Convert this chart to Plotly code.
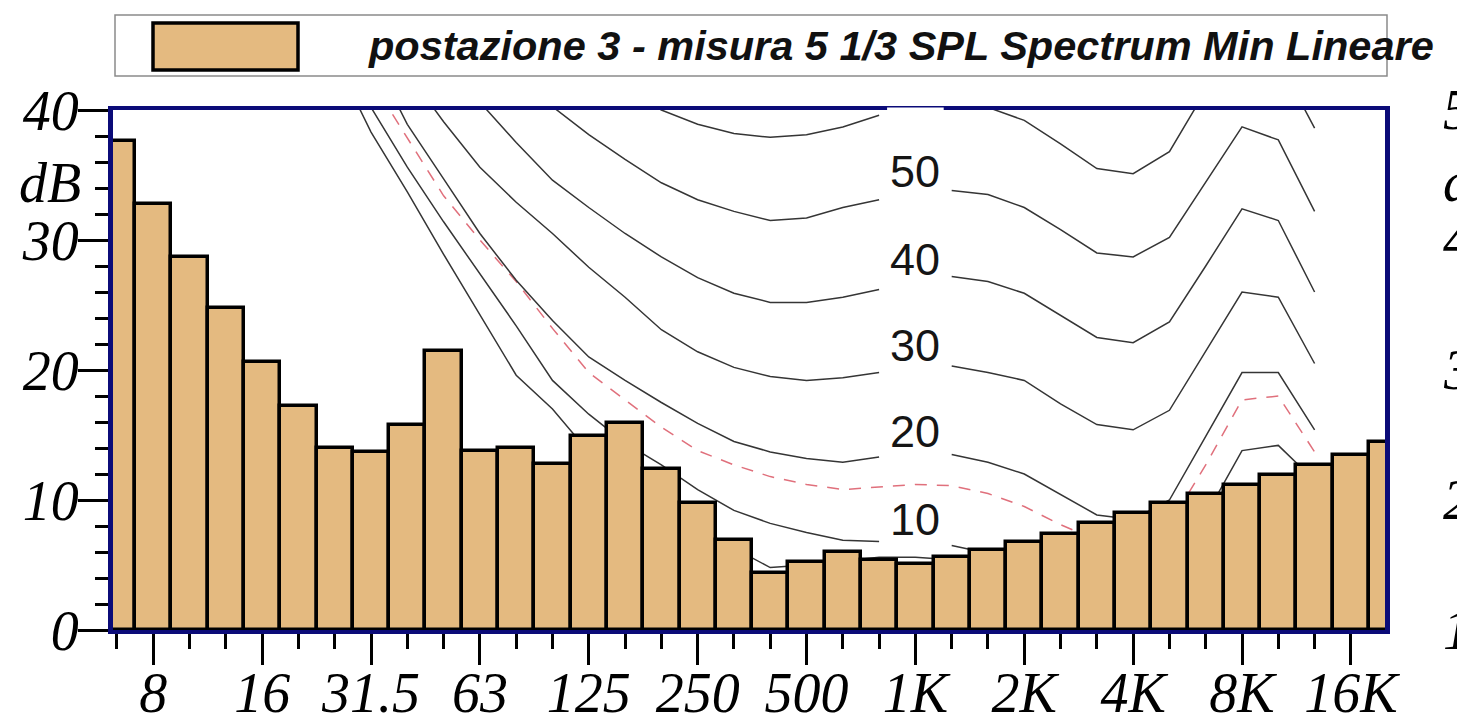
import plotly.graph_objects as go

# ---------------- data ----------------
bands = ["6.3", "8", "10", "12.5", "16", "20", "25", "31.5", "40", "50", "63", "80",
         "100", "125", "160", "200", "250", "315", "400", "500", "630", "800",
         "1K", "1.25K", "1.6K", "2K", "2.5K", "3.15K", "4K", "5K", "6.3K", "8K",
         "10K", "12.5K", "16K", "20K"]

levels_db = [37.6, 32.8, 28.7, 24.8, 20.6, 17.2, 14.0, 13.7, 15.8, 21.5, 13.8, 14.0,
             12.8, 14.9, 15.9, 12.4, 9.8, 6.9, 4.35, 5.25, 6.0, 5.4,
             5.1, 5.6, 6.15, 6.75, 7.4, 8.2, 9.0, 9.8, 10.5, 11.15,
             11.9, 12.7, 13.5, 14.5]

tick_labels = ["8", "16", "31.5", "63", "125", "250", "500", "1K", "2K", "4K", "8K", "16K"]

# equal-loudness curves, 6.3 Hz ... 12.5 kHz (values as drawn on the chart scale)
curve_bands = bands[:34]
curve_low = [70, 64, 58, 54, 50, 47, 44.0, 38.3, 33.7, 28.9, 24.2, 19.6, 17.0, 13.7,
             11.5, 9.6, 7.9, 6.3, 4.8, 5.0, 5.3, 5.6, 5.6, 5.4, 4.8, 3.8, 2.7, 1.5,
             1.4, 2.7, 5.4, 8.1, 8.5, 3.8]
curve_10 = [75, 68, 62, 57, 52, 48.5, 45.0, 40.2, 35.6, 31.4, 27.4, 23.4, 19.2, 16.6,
            14.4, 12.7, 10.8, 9.2, 8.2, 7.5, 6.9, 6.8, 6.7, 6.5, 5.9, 5.0, 3.8, 2.7,
            2.5, 4.0, 8.8, 13.8, 14.2, 11.5]
curve_ref = [78, 71, 65, 59, 54, 50, 46, 42.3, 37.9, 33.4, 30.0, 26.8, 23.2, 19.8,
             17.7, 15.6, 13.8, 12.7, 11.8, 11.2, 10.8, 11.0, 11.2, 11.1, 10.5, 9.5,
             8.1, 6.9, 6.5, 8.1, 12.7, 17.7, 18.0, 13.7]
curve_20 = [80, 73, 67, 61, 56, 51.5, 47.5, 44.4, 38.9, 34.7, 30.5, 26.9, 23.8, 21.0,
            19.2, 17.5, 15.9, 14.5, 13.7, 13.2, 12.9, 13.3, 13.5, 13.5, 12.9, 12.0,
            10.4, 8.85, 8.5, 10.0, 14.9, 19.8, 19.8, 15.4]
curve_30 = [85, 78, 72, 66, 60, 55, 50.5, 46.5, 42.9, 39.1, 35.6, 32.9, 30.5, 27.9,
            25.6, 23.1, 21.4, 20.2, 19.5, 19.2, 19.4, 19.8, 20.1, 20.3, 19.8, 19.2,
            17.4, 15.8, 15.4, 16.9, 21.5, 26.0, 25.6, 20.5]
curve_40 = [90, 83, 77, 71, 65, 60, 55.5, 51.5, 47.5, 44.0, 40.6, 37.5, 34.6, 32.5,
            30.5, 28.7, 27.1, 25.9, 25.2, 25.2, 25.6, 26.2, 26.7, 27.2, 26.8, 25.9,
            24.2, 22.5, 22.1, 23.7, 28.0, 32.4, 31.5, 26.0]
curve_50 = [95, 88, 82, 76, 70, 65, 60.5, 56.5, 52.5, 49, 46, 43, 40.26, 38.1, 36.2,
            34.4, 33.1, 32.2, 31.5, 31.7, 32.5, 33.1, 33.5, 33.8, 33.5, 32.5, 30.8,
            29.0, 28.7, 30.2, 34.5, 38.7, 37.7, 32.2]
curve_60 = [100, 93, 87, 81, 75, 70, 65.5, 61.5, 57.5, 54, 51, 48, 45.5, 43.5, 41.5,
            40.0, 38.9, 38.2, 37.9, 38.1, 38.7, 39.6, 40.4, 40.6, 40.2, 39.2, 37.4,
            35.5, 35.1, 36.8, 41.5, 44.6, 43.9, 38.6]

labelled_curves = [("10", curve_10), ("20", curve_20), ("30", curve_30),
                   ("40", curve_40), ("50", curve_50), ("60", curve_60)]
label_band = "1K"
series_name = "postazione 3 - misura 5 1/3 SPL Spectrum Min Lineare"

# ---------------- figure ----------------
idx = list(range(len(bands)))
cidx = list(range(len(curve_bands)))
k_lab = bands.index(label_band)

X_RANGE = [-0.11, 34.94]
Y_RANGE = [0, 40]
BAR_FILL = "#E4BA80"
NAVY = "#0b0b78"
SERIF = "Liberation Serif"
SANS = "Liberation Sans"

fig = go.Figure()

curve_line = dict(color="#353535", width=1.5)

fig.add_trace(go.Scatter(x=cidx, y=curve_low, mode="lines", line=curve_line,
                         hoverinfo="skip", showlegend=False))
fig.add_trace(go.Scatter(x=cidx, y=curve_ref, mode="lines",
                         line=dict(color="#e0707c", width=1.5, dash="12px,10px"),
                         hoverinfo="skip", showlegend=False))
for name, vals in labelled_curves:
    yv = [None if i == k_lab else v for i, v in enumerate(vals)]
    fig.add_trace(go.Scatter(x=cidx, y=yv, mode="lines", line=curve_line,
                             connectgaps=False, hoverinfo="skip", showlegend=False))

# bars on an overlaid subplot so that they hide the curves behind them
fig.add_trace(go.Bar(x=idx, y=levels_db, width=1, name=series_name,
                     xaxis="x2", yaxis="y2",
                     marker=dict(color=BAR_FILL, line=dict(color="black", width=3.5)),
                     showlegend=False))

annotations = []
for name, vals in labelled_curves:
    if vals[k_lab] <= Y_RANGE[1]:
        annotations.append(dict(x=k_lab, y=vals[k_lab], xref="x", yref="y", text=name,
                                showarrow=False, xanchor="center", yanchor="bottom",
                                yshift=-4,
                                font=dict(family=SANS, size=45, color="#151515")))

# the page body adds an 8 px margin: the figure is sized and placed to compensate
OFF = 8
W, H = 1465 - OFF, 720 - OFF
ML, MR, MT, MB = 113 - OFF, 80, 110 - OFF, 90
pw, ph = W - ML - MR, H - MT - MB


def px(xp):
    return (xp - OFF - ML) / pw


def py(yp):
    return (H - MB - (yp - OFF)) / ph


annotations.append(dict(x=px(50), y=py(183), xref="paper", yref="paper", text="dB",
                        showarrow=False, xanchor="center", yanchor="middle",
                        font=dict(family=SERIF, size=56, style="italic", color="black")))
annotations.append(dict(x=px(366), y=py(45), xref="paper", yref="paper", text=series_name,
                        showarrow=False, xanchor="left", yanchor="middle",
                        font=dict(family=SANS, size=41.5, weight="bold", style="italic",
                                  color="#111111")))
# neighbouring chart's axis labels cut by the page edge
for txt, ypix in [("50", 110), ("dB", 182), ("40", 240), ("30", 370), ("20", 500), ("10", 630)]:
    annotations.append(dict(x=px(1441), y=py(ypix), xref="paper", yref="paper", text=txt,
                            showarrow=False, xanchor="left", yanchor="middle",
                            font=dict(family=SERIF, size=56, style="italic", color="black")))

shapes = [
    dict(type="rect", xref="paper", yref="paper", x0=px(115), x1=px(1387), y0=py(76), y1=py(15),
         line=dict(color="#8a8a8a", width=1.5), fillcolor="white", layer="below"),
    dict(type="rect", xref="paper", yref="paper", x0=px(153), x1=px(298), y0=py(70), y1=py(23),
         line=dict(color="black", width=3.5), fillcolor=BAR_FILL, layer="above"),
]
# label box of the hidden 60 curve nibbles the top frame
gx0 = (k_lab - 0.78 - X_RANGE[0]) / (X_RANGE[1] - X_RANGE[0])
gx1 = (k_lab + 0.78 - X_RANGE[0]) / (X_RANGE[1] - X_RANGE[0])
shapes.append(dict(type="rect", xref="paper", yref="paper", x0=gx0, x1=gx1,
                   y0=1.0 - 1.0 / ph, y1=1.0 + 2.5 / ph, line=dict(width=0),
                   fillcolor="white", layer="above"))

tickfont = dict(family=SERIF, size=56, style="italic", color="black")

fig.update_layout(
    width=W, height=H,
    margin=dict(l=ML, r=MR, t=MT, b=MB, pad=0),
    paper_bgcolor="white", plot_bgcolor="white",
    bargap=0, showlegend=False,
    annotations=annotations, shapes=shapes,
    xaxis=dict(range=X_RANGE, tickmode="array", automargin=False,
               tickvals=[bands.index(t) for t in tick_labels], ticktext=tick_labels,
               ticks="outside", ticklen=31, tickwidth=2.5, tickcolor="black",
               ticklabelstandoff=-20,
               showline=True, linecolor=NAVY, linewidth=4, mirror=True,
               showgrid=False, zeroline=False, tickfont=tickfont,
               minor=dict(ticks="outside", ticklen=15, tickwidth=2.5, tickcolor="black",
                          tickmode="linear", tick0=0, dtick=1, showgrid=False)),
    yaxis=dict(range=Y_RANGE, tickmode="array", tickvals=[0, 10, 20, 30, 40], automargin=False,
               ticks="outside", ticklen=30, tickwidth=2.5, tickcolor="black",
               ticklabelstandoff=-12,
               showline=True, linecolor=NAVY, linewidth=5, mirror=True,
               showgrid=False, zeroline=False, tickfont=tickfont,
               minor=dict(ticks="outside", ticklen=13, tickwidth=2.5, tickcolor="black",
                          tickmode="linear", tick0=0, dtick=2, showgrid=False)),
    xaxis2=dict(overlaying="x", range=X_RANGE, visible=False, automargin=False),
    yaxis2=dict(overlaying="y", range=Y_RANGE, visible=False, automargin=False),
)

fig.write_html("out.html")
